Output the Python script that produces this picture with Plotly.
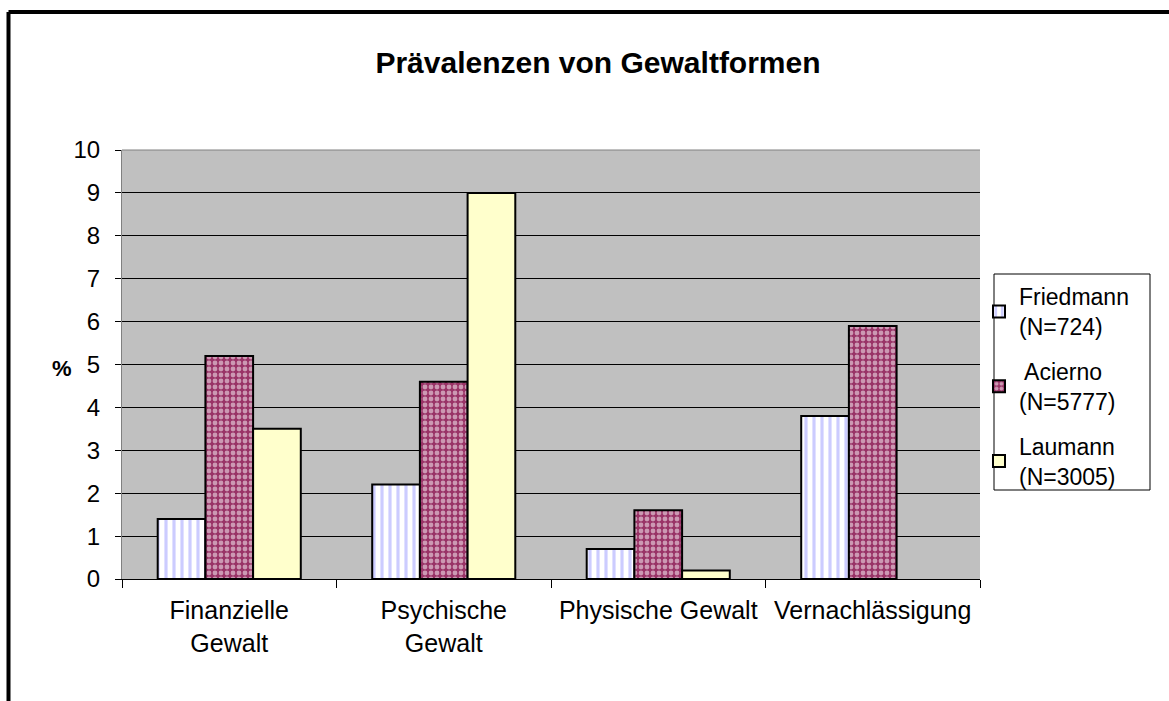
import plotly.graph_objects as go

categories = ["Finanzielle<br>Gewalt", "Psychische<br>Gewalt", "Physische Gewalt", "Vernachlässigung"]
friedmann = [1.4, 2.2, 0.7, 3.8]
acierno = [5.2, 4.6, 1.6, 5.9]
laumann = [3.5, 9.0, 0.2, None]
series_names = ["Friedmann<br>(N=724)", " Acierno<br>(N=5777)", "Laumann<br>(N=3005)"]
y_ticks = list(range(0, 11))

W, H = 1169, 701
L, R, T, B = 122, 189, 150, 122
pw, ph = W - L - R, H - T - B

FONT = "Liberation Sans, Arial, sans-serif"

fig = go.Figure()
fig.add_trace(go.Bar(
    x=categories, y=friedmann, name=series_names[0], legendgroup="a",
    marker=dict(color="white", line=dict(color="black", width=2),
                pattern=dict(shape="|", fgcolor="#9999FF", bgcolor="white", size=8, solidity=0.4)),
))
fig.add_trace(go.Bar(
    x=categories, y=acierno, name=series_names[1], legendgroup="b",
    marker=dict(color="#993366", line=dict(color="black", width=2),
                pattern=dict(shape=".", fgcolor="white", bgcolor="#993366", size=6, solidity=0.5)),
))
fig.add_trace(go.Bar(
    x=categories, y=laumann, name=series_names[2], legendgroup="c",
    marker=dict(color="#FFFFCC", line=dict(color="black", width=2)),
))

def px_x(x):
    return (x - L) / pw

def px_y(y):
    return 1 - (y - T) / ph

shapes = [
    dict(type="line", xref="paper", yref="paper", x0=px_x(8.5), x1=px_x(1200), y0=px_y(12), y1=px_y(12),
         line=dict(color="black", width=4)),
    dict(type="line", xref="paper", yref="paper", x0=px_x(8.5), x1=px_x(8.5), y0=px_y(12), y1=px_y(720),
         line=dict(color="black", width=4)),
    dict(type="rect", xref="paper", yref="paper", x0=px_x(994), x1=px_x(1150), y0=px_y(274), y1=px_y(490),
         line=dict(color="black", width=1), fillcolor="rgba(0,0,0,0)", layer="above"),
    dict(type="line", xref="paper", yref="paper", x0=0, x1=1, y0=1, y1=1,
         line=dict(color="#808080", width=1)),
]

fig.update_layout(
    width=W, height=H,
    margin=dict(l=L, r=R, t=T, b=B, autoexpand=False),
    paper_bgcolor="white", plot_bgcolor="#C0C0C0",
    barmode="group", bargap=0.333, bargroupgap=0,
    font=dict(family=FONT, size=25, color="black"),
    title=dict(text="<b>Prävalenzen von Gewaltformen</b>", x=px_x(598), xanchor="center", xref="paper",
               y=1 - 62 / H, yanchor="middle", font=dict(size=30)),
    xaxis=dict(showline=True, linecolor="black", linewidth=1, ticks="outside", tickson="boundaries",
               ticklen=8, tickcolor="black", showgrid=False, mirror=False, ticklabelstandoff=9),
    yaxis=dict(range=[0, 10], tickvals=y_ticks, showgrid=True, gridcolor="black", gridwidth=1,
               ticks="outside", ticklen=6, tickcolor="black", showline=True, linecolor="#808080",
               linewidth=1, zeroline=False, ticklabelstandoff=10, tickfont=dict(size=24)),
    legend=dict(x=px_x(979), y=px_y(275), xanchor="left", yanchor="top",
                borderwidth=0, bgcolor="rgba(0,0,0,0)",
                font=dict(size=23), tracegroupgap=12, itemsizing="constant"),
    shapes=shapes,
    annotations=[dict(text="<b>%</b>", xref="paper", yref="paper", x=px_x(62), y=px_y(368),
                      showarrow=False, xanchor="center", yanchor="middle", font=dict(size=22))],
)

fig.write_html("out.html", post_script="document.body.style.margin='0';",
               config={"displayModeBar": False})
